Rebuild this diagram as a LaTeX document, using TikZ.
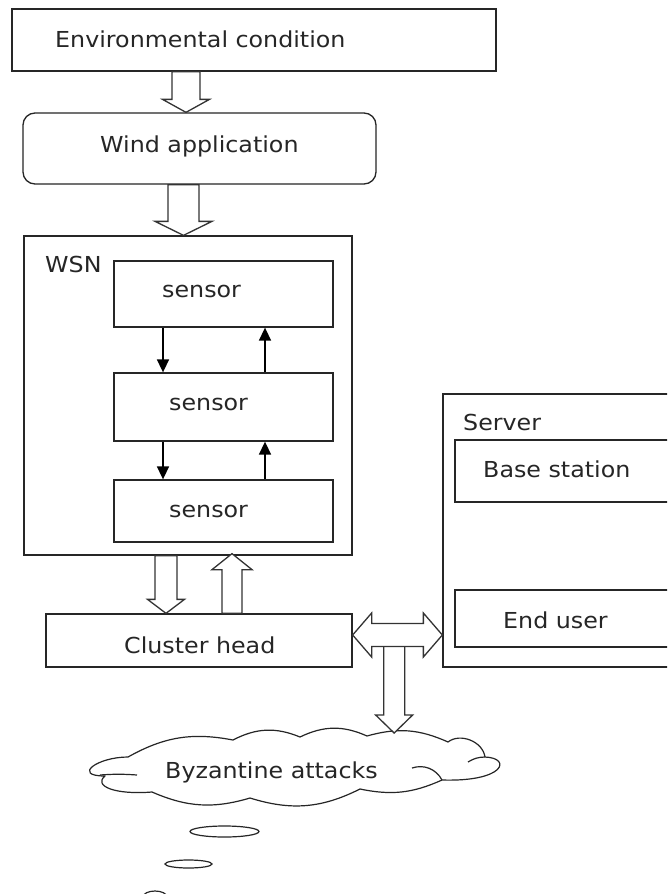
\documentclass[tikz,border=0pt]{standalone}
\usepackage{fontspec}
\setmainfont[FakeStretch=1.08]{DejaVu Sans}
\usetikzlibrary{calc,shapes.geometric,arrows.meta}

% hollow block arrow pointing down / up: #1 start, #2 tip, #3 shaft half width, #4 head half width, #5 head length
\newcommand\blkdown[5]{\draw[blk] let \p1=(#1), \p2=(#2) in
  (\x1-#3,\y1) -- (\x1-#3,\y2+#5) -- (\x1-#4,\y2+#5) -- (\x1,\y2) -- (\x1+#4,\y2+#5) -- (\x1+#3,\y2+#5) -- (\x1+#3,\y1) -- cycle;}
\newcommand\blkup[5]{\draw[blk] let \p1=(#1), \p2=(#2) in
  (\x1-#3,\y1) -- (\x1-#3,\y2-#5) -- (\x1-#4,\y2-#5) -- (\x1,\y2) -- (\x1+#4,\y2-#5) -- (\x1+#3,\y2-#5) -- (\x1+#3,\y1) -- cycle;}
% horizontal double block arrow: #1 left tip, #2 right tip (only x used)
\newcommand\blkboth[5]{\draw[blk] let \p1=(#1), \p2=(#2) in
  (\x1,\y1) -- (\x1+#5,\y1+#4) -- (\x1+#5,\y1+#3) -- (\x2-#5,\y1+#3) -- (\x2-#5,\y1+#4) -- (\x2,\y1)
  -- (\x2-#5,\y1-#4) -- (\x2-#5,\y1-#3) -- (\x1+#5,\y1-#3) -- (\x1+#5,\y1-#4) -- cycle;}

\begin{document}
\begin{tikzpicture}[x=1pt,y=-1pt,
  box/.style={draw=black!85, line width=1.3pt, fill=white, inner sep=0pt},
  lbl/.style={anchor=base west, inner sep=0pt, font=\fontsize{22}{26}\selectfont, text=black!85},
  blk/.style={draw=black!80, line width=1.3pt, fill=white, line join=miter},
  link/.style={draw=black, line width=1.6pt, -{Triangle[width=12pt,length=13pt]}},
  bubble/.style={ellipse, draw=black!85, line width=1.2pt, inner sep=0pt},
  cloudline/.style={draw=black!85, line width=1.2pt, line join=round},
  ]
\useasboundingbox (0,0) rectangle (667,894);
\clip (0,0) rectangle (667,894);
\fill[white] (0,0) rectangle (667,894);

% boxes
\node[box, minimum width=484pt, minimum height=62pt] (env) at (254,40) {};
\node[box, rounded corners=12pt, minimum width=353pt, minimum height=71pt] (wind) at (199.5,148.5) {};
\node[box, minimum width=328pt, minimum height=319pt] (wsn) at (188,395.5) {};
\node[box, minimum width=219pt, minimum height=66pt] (s1) at (223.5,294) {};
\node[box, minimum width=219pt, minimum height=68pt] (s2) at (223.5,407) {};
\node[box, minimum width=219pt, minimum height=62pt] (s3) at (223.5,511) {};
\node[box, minimum width=306pt, minimum height=53pt] (ch) at (199,640.5) {};
\node[box, minimum width=240pt, minimum height=273pt] (server) at (563,530.5) {};
\node[box, minimum width=230pt, minimum height=62pt] (bs) at (570,471) {};
\node[box, minimum width=230pt, minimum height=57pt] (eu) at (570,618.5) {};

% cloud (callout outline)
\draw[cloudline, fill=white] (128,757)
  to[bend left=20] (233,740)
  to[bend left=25] (300,737)
  to[bend left=25] (367,736)
  to[bend left=20] (448,742)
  to[bend left=60] (485,757)
  .. controls (512,758) and (505,782) .. (442,780)
  to[bend left=18] (360,789)
  to[bend left=22] (250,798)
  to[bend left=20] (152,792)
  .. controls (115,795) and (93,786) .. (105,776)
  .. controls (72,776) and (97,757) .. cycle;
\draw[cloudline] (100,775) to[bend left=4] (137,775);
\draw[cloudline] (412,768) to[bend left=40] (442,780);
\draw[cloudline] (468,762) to[bend left=15] (485,757);
\coordinate (cloudtip) at (393.5,733);

\node[bubble, minimum width=69pt, minimum height=11pt] (b1) at (224.5,831.5) {};
\node[bubble, minimum width=47pt, minimum height=8pt] (b2) at (188.5,864) {};
\node[bubble, minimum width=24pt, minimum height=12pt] (b3) at (155,897) {};

% labels
\node[lbl] (envt) at (55,47) {Environmental condition};
\node[lbl] (windt) at (100,152) {Wind application};
\node[lbl] (wsnt) at (45,272) {WSN};
\node[lbl] (s1t) at (162,297) {sensor};
\node[lbl] (s2t) at (169,410) {sensor};
\node[lbl] (s3t) at (169,517) {sensor};
\node[lbl] (cht) at (124,653) {Cluster head};
\node[lbl] (servert) at (463,430) {Server};
\node[lbl] (bst) at (483,477) {Base station};
\node[lbl] (eut) at (503,628) {End user};
\node[lbl] (cloudt) at (165,778) {Byzantine attacks};

% thin arrows between sensors
\draw[link] ([xshift=-60.5pt]s1.south) -- ([xshift=-60.5pt]s2.north);
\draw[link] ([xshift=-60.5pt]s2.south) -- ([xshift=-60.5pt]s3.north);
\draw[link] ([xshift=41.5pt]s2.north) -- ([xshift=41.5pt]s1.south);
\draw[link] ([xshift=41.5pt]s3.north) -- ([xshift=41.5pt]s2.south);

% hollow block arrows
\blkdown{[xshift=-68pt]env.south}{wind.north}{14pt}{23.5pt}{13pt}
\blkdown{[xshift=-16pt]wind.south}{wsn.north}{15.5pt}{28.5pt}{14pt}
\blkdown{[xshift=-22pt]wsn.south}{ch.north}{11pt}{18.5pt}{14pt}
\blkup{[xshift=33pt]ch.north}{[yshift=2pt]wsn.south}{10pt}{20pt}{16pt}
\blkdown{[xshift=41.5pt,yshift=-5.5pt]ch.east}{cloudtip}{10.5pt}{18.5pt}{18pt}
\blkboth{[yshift=5.5pt]ch.east}{server.west}{11.5pt}{22pt}{19pt}
\end{tikzpicture}
\end{document}
